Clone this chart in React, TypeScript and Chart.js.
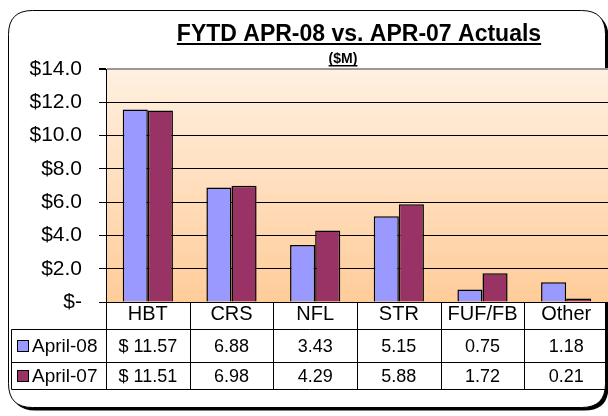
import React, { useEffect, useRef } from "react";
import { Chart, registerables } from "chart.js";

Chart.register(...registerables);

const categories = ["HBT", "CRS", "NFL", "STR", "FUF/FB", "Other"];
const seriesNames = ["April-08", "April-07"];
const april08 = [11.57, 6.88, 3.43, 5.15, 0.75, 1.18];
const april07 = [11.51, 6.98, 4.29, 5.88, 1.72, 0.21];
const april08Labels = ["$ 11.57", "6.88", "3.43", "5.15", "0.75", "1.18"];
const april07Labels = ["$ 11.51", "6.98", "4.29", "5.88", "1.72", "0.21"];
const colors = ["#9999FF", "#993366"];
const titleText = "FYTD APR-08 vs. APR-07 Actuals";
const subtitleText = "($M)";

const FONT = "Arial, 'Liberation Sans', sans-serif";

const framePlugin = {
  id: "frame",
  beforeDraw(chart: any) {
    const { ctx, chartArea } = chart;
    ctx.save();
    ctx.fillStyle = "#ffffff";
    ctx.fillRect(0, 0, chart.width, chart.height);
    const x = 8.5, y = 10.5, w = 597, h = 397, r = 24;
    const rr = (ox: number, oy: number) => {
      ctx.beginPath();
      ctx.moveTo(ox + x + r, oy + y);
      ctx.lineTo(ox + x + w - r, oy + y);
      ctx.quadraticCurveTo(ox + x + w, oy + y, ox + x + w, oy + y + r);
      ctx.lineTo(ox + x + w, oy + y + h - r);
      ctx.quadraticCurveTo(ox + x + w, oy + y + h, ox + x + w - r, oy + y + h);
      ctx.lineTo(ox + x + r, oy + y + h);
      ctx.quadraticCurveTo(ox + x, oy + y + h, ox + x, oy + y + h - r);
      ctx.lineTo(ox + x, oy + y + r);
      ctx.quadraticCurveTo(ox + x, oy + y, ox + x + r, oy + y);
      ctx.closePath();
    };
    rr(3, 3);
    ctx.fillStyle = "#000";
    ctx.fill();
    rr(0, 0);
    ctx.fillStyle = "#fff";
    ctx.fill();
    ctx.strokeStyle = "#000";
    ctx.lineWidth = 1;
    ctx.stroke();
    const g = ctx.createLinearGradient(0, chartArea.top, 0, chartArea.bottom);
    g.addColorStop(0, "#FFF0E1");
    g.addColorStop(1, "#FFCC99");
    ctx.fillStyle = g;
    ctx.fillRect(chartArea.left, chartArea.top, chartArea.right - chartArea.left, chartArea.bottom - chartArea.top);
    ctx.restore();
  },
  afterDraw(chart: any) {
    const { ctx, chartArea, scales } = chart;
    const xs = scales.x;
    ctx.save();
    ctx.fillStyle = "#000";
    ctx.textAlign = "center";
    ctx.textBaseline = "alphabetic";
    ctx.font = "bold 23px " + FONT;
    const tcx = 359;
    ctx.fillText(titleText, tcx, 41);
    const tw = ctx.measureText(titleText).width;
    ctx.fillRect(tcx - tw / 2, 43, tw, 2);
    ctx.font = "bold 14px " + FONT;
    const scx = 343;
    ctx.fillText(subtitleText, scx, 63);
    const sw = ctx.measureText(subtitleText).width;
    ctx.fillRect(scx - sw / 2, 65, sw, 1.5);

    const n = categories.length;
    const step = xs.getPixelForValue(1) - xs.getPixelForValue(0);
    const top = chartArea.bottom;
    const row1 = 329.5, row2 = 362.5, row3 = 389.5;
    const leftX = 11.5;
    const rightX = chart.width;
    ctx.strokeStyle = "#000";
    ctx.lineWidth = 1;
    ctx.beginPath();
    for (let i = 0; i <= n; i++) {
      const px = Math.round(xs.getPixelForValue(i) - step / 2) + 0.5;
      ctx.moveTo(px, top);
      ctx.lineTo(px, row3);
    }
    [row1, row2, row3].forEach((yy) => {
      ctx.moveTo(leftX, yy);
      ctx.lineTo(rightX, yy);
    });
    ctx.moveTo(leftX, row1);
    ctx.lineTo(leftX, row3);
    ctx.stroke();

    const rows = [april08Labels, april07Labels];
    const rowMid = [(row1 + row2) / 2 + 1, (row2 + row3) / 2 + 1];
    ctx.textBaseline = "middle";
    rows.forEach((labels, r) => {
      ctx.font = "18px " + FONT;
      labels.forEach((t, i) => {
        ctx.textAlign = "center";
        ctx.fillText(t, xs.getPixelForValue(i), rowMid[r]);
      });
      ctx.fillStyle = colors[r];
      ctx.fillRect(17.5, rowMid[r] - 6.5, 11, 11);
      ctx.strokeRect(17.5, rowMid[r] - 6.5, 11, 11);
      ctx.fillStyle = "#000";
      ctx.textAlign = "left";
      ctx.font = "19px " + FONT;
      ctx.fillText(seriesNames[r], 32, rowMid[r]);
    });
    ctx.restore();
  },
};

export default function App() {
  const ref = useRef<HTMLCanvasElement>(null);
  useEffect(() => {
    document.body.style.margin = "0";
    const chart = new Chart(ref.current!, {
      type: "bar",
      data: {
        labels: categories,
        datasets: [
          { label: seriesNames[0], data: april08, backgroundColor: colors[0], borderColor: "#000", borderWidth: 1.5 },
          { label: seriesNames[1], data: april07, backgroundColor: colors[1], borderColor: "#000", borderWidth: 1.5 },
        ],
      },
      options: {
        animation: false,
        responsive: false,
        maintainAspectRatio: false,
        layout: { padding: { top: 69, left: 0, right: 0, bottom: 0 } },
        plugins: { legend: { display: false }, tooltip: { enabled: false }, title: { display: false } },
        datasets: { bar: { categoryPercentage: 0.6, barPercentage: 1 } },
        scales: {
          x: {
            grid: { display: false, drawTicks: false },
            border: { display: false },
            ticks: { color: "#000", font: { family: FONT, size: 20 }, padding: 0 },
            afterFit: (s: any) => { s.height = 416 - 302; },
          },
          y: {
            min: 0,
            max: 14,
            ticks: {
              stepSize: 2,
              color: "#000",
              font: { family: FONT, size: 21 },
              padding: 17,
              callback: (v: any) => (Number(v) === 0 ? "$-" : "$" + Number(v).toFixed(1)),
            },
            grid: {
              color: (c: any) => (c.tick && c.tick.value === 14 ? "#999999" : "#000000"),
              lineWidth: (c: any) => (c.tick && c.tick.value === 14 ? 2 : 1),
              tickLength: 7,
              tickColor: "#000",
            },
            border: { display: true, color: "#000", width: 1 },
            afterFit: (s: any) => { s.width = 106; },
          },
        },
      },
      plugins: [framePlugin],
    });
    return () => chart.destroy();
  }, []);
  return (
    <div style={{ width: 608, height: 416 }}>
      <canvas ref={ref} width={608} height={416} style={{ display: "block" }} />
    </div>
  );
}
